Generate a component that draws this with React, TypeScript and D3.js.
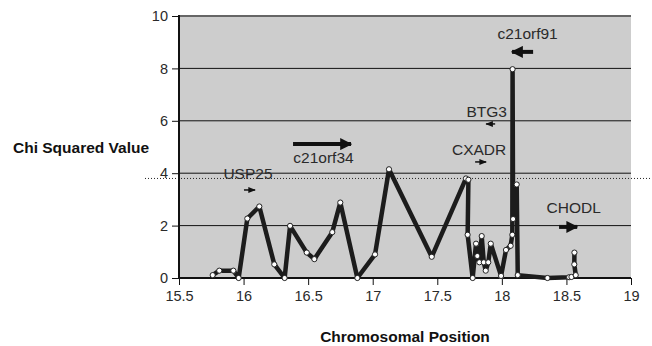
import React from 'react';
import { useEffect, useRef } from 'react';
import { select, scaleLinear, line, axisLeft, axisBottom } from 'd3';

// marker positions (Mb) and chi squared values, in drawing order
const positions = [
  15.761, 15.812, 15.921, 15.962, 16.029, 16.122, 16.238, 16.318, 16.36, 16.489,
  16.548, 16.687, 16.749, 16.881, 17.018, 17.126, 17.457, 17.722, 17.741, 17.735,
  17.774, 17.8, 17.81, 17.826, 17.844, 17.86, 17.875, 17.895, 17.914, 17.994,
  18.032, 18.068, 18.081, 18.083, 18.087, 18.115, 18.123, 18.353, 18.521, 18.539,
  18.572, 18.561, 18.562,
];
const chiValues = [
  0.11, 0.28, 0.28, 0.0, 2.27, 2.73, 0.52, 0.0, 1.99, 0.97,
  0.72, 1.75, 2.88, 0.0, 0.9, 4.15, 0.81, 3.8, 3.75, 1.65,
  0.0, 1.31, 0.84, 0.6, 1.6, 0.6, 0.28, 0.6, 1.31, 0.08,
  1.07, 1.23, 1.65, 7.97, 2.25, 3.57, 0.11, 0.0, 0.03, 0.04,
  0.11, 0.52, 0.97,
];

const yTicks = [0, 2, 4, 6, 8, 10];
const xTicks = [15.5, 16, 16.5, 17, 17.5, 18, 18.5, 19];
const threshold = 3.8;

// gene annotations in data coordinates
const geneNames = ['USP25', 'c21orf34', 'CXADR', 'BTG3', 'c21orf91', 'CHODL'];
const geneLabelX = [16.034, 16.619, 17.824, 17.882, 18.199, 18.556];
const geneLabelY = [4.0, 4.62, 4.92, 6.37, 9.35, 2.71];
const geneStart = [16.003, 16.383, 17.793, 17.948, 18.242, 18.443];
const geneEnd = [16.089, 16.832, 17.878, 17.878, 18.079, 18.583];
const geneArrowY = [3.36, 5.11, 4.43, 5.88, 8.63, 1.95];
const geneBig = [false, true, false, false, true, true];

const font = '"Liberation Sans", Arial, sans-serif';

export default function App() {
  const yAxisRef = useRef<SVGGElement>(null);
  const xAxisRef = useRef<SVGGElement>(null);

  const width = 652;
  const height = 346;
  const left = 179, right = 631, top = 16, bottom = 278;

  const x = scaleLinear().domain([15.5, 19]).range([left, right]);
  const y = scaleLinear().domain([0, 10]).range([bottom, top]);

  const pts = positions.map((p, i) => [p, chiValues[i]] as [number, number]);
  const path = line<[number, number]>()
    .x((d) => x(d[0]))
    .y((d) => y(d[1]))(pts);

  useEffect(() => {
    const ya = axisLeft(y).tickValues(yTicks).tickSize(7).tickPadding(4).tickFormat((d) => String(d));
    const gy = select(yAxisRef.current!).call(ya);
    gy.select('.domain').remove();
    gy.selectAll('line').attr('stroke', '#111').attr('stroke-width', 1);
    gy.selectAll('text').attr('font-size', 14.5).attr('font-family', font).attr('fill', '#2a2a2a');

    const xa = axisBottom(x).tickValues(xTicks).tickSize(7).tickPadding(6).tickFormat((d) => String(d));
    const gx = select(xAxisRef.current!).call(xa);
    gx.select('.domain').remove();
    gx.selectAll('line').attr('stroke', '#111').attr('stroke-width', 1);
    gx.selectAll('text').attr('font-size', 14.5).attr('font-family', font).attr('fill', '#2a2a2a');
  }, []);

  return (
    <svg width={width} height={height} style={{ position: 'absolute', left: 0, top: 0, background: '#fff' }}>
      <defs>
        <marker id="headBig" viewBox="0 0 10 10" refX="9" refY="5" markerWidth="3" markerHeight="3" orient="auto" markerUnits="strokeWidth">
          <path d="M0,0 L10,5 L0,10 Z" fill="#111" />
        </marker>
        <marker id="headSmall" viewBox="0 0 10 10" refX="9" refY="5" markerWidth="5" markerHeight="5" orient="auto" markerUnits="strokeWidth">
          <path d="M0,1 L10,5 L0,9 Z" fill="#111" />
        </marker>
      </defs>
      <rect x={left} y={top} width={right - left} height={bottom - top} fill="#cdcdcd" />
      {yTicks.filter((t) => t > 0 && t < 10).map((t) => (
        <line key={t} x1={left} x2={right} y1={y(t)} y2={y(t)} stroke="#111" strokeWidth={1} />
      ))}
      <line x1={left} x2={right} y1={y(10)} y2={y(10)} stroke="#666" strokeWidth={2} />
      <line x1={145} x2={650} y1={y(threshold)} y2={y(threshold)} stroke="#222" strokeWidth={1} strokeDasharray="1,2" />
      <g ref={yAxisRef} transform={`translate(${left},0)`} />
      <g ref={xAxisRef} transform={`translate(0,${bottom})`} />
      <line x1={left} x2={left} y1={top - 1} y2={bottom + 1} stroke="#111" strokeWidth={2} />
      <line x1={left} x2={right} y1={bottom} y2={bottom} stroke="#111" strokeWidth={2} />

      {geneNames.map((g, i) => (
        <g key={g}>
          <text x={x(geneLabelX[i])} y={y(geneLabelY[i])} dy="0.36em" textAnchor="middle" fontSize={15.5} fontFamily={font} fill="#2a2a2a">
            {g}
          </text>
          <line
            x1={x(geneStart[i])}
            x2={x(geneEnd[i])}
            y1={y(geneArrowY[i])}
            y2={y(geneArrowY[i])}
            stroke="#111"
            strokeWidth={geneBig[i] ? 4 : 1.5}
            markerEnd={geneBig[i] ? 'url(#headBig)' : 'url(#headSmall)'}
          />
        </g>
      ))}

      <path d={path ?? ''} fill="none" stroke="#1c1c1c" strokeWidth={4.5} strokeLinejoin="round" />
      {pts.map((d, i) => (
        <circle key={i} cx={x(d[0])} cy={y(d[1])} r={2.6} fill="#fff" stroke="#222" strokeWidth={1} />
      ))}

      <text x={13} y={153} fontSize={15.5} fontWeight="bold" fontFamily={font} fill="#111">
        Chi Squared Value
      </text>
      <text x={(left + right) / 2} y={342} textAnchor="middle" fontSize={15.5} fontWeight="bold" fontFamily={font} fill="#111">
        Chromosomal Position
      </text>
    </svg>
  );
}
